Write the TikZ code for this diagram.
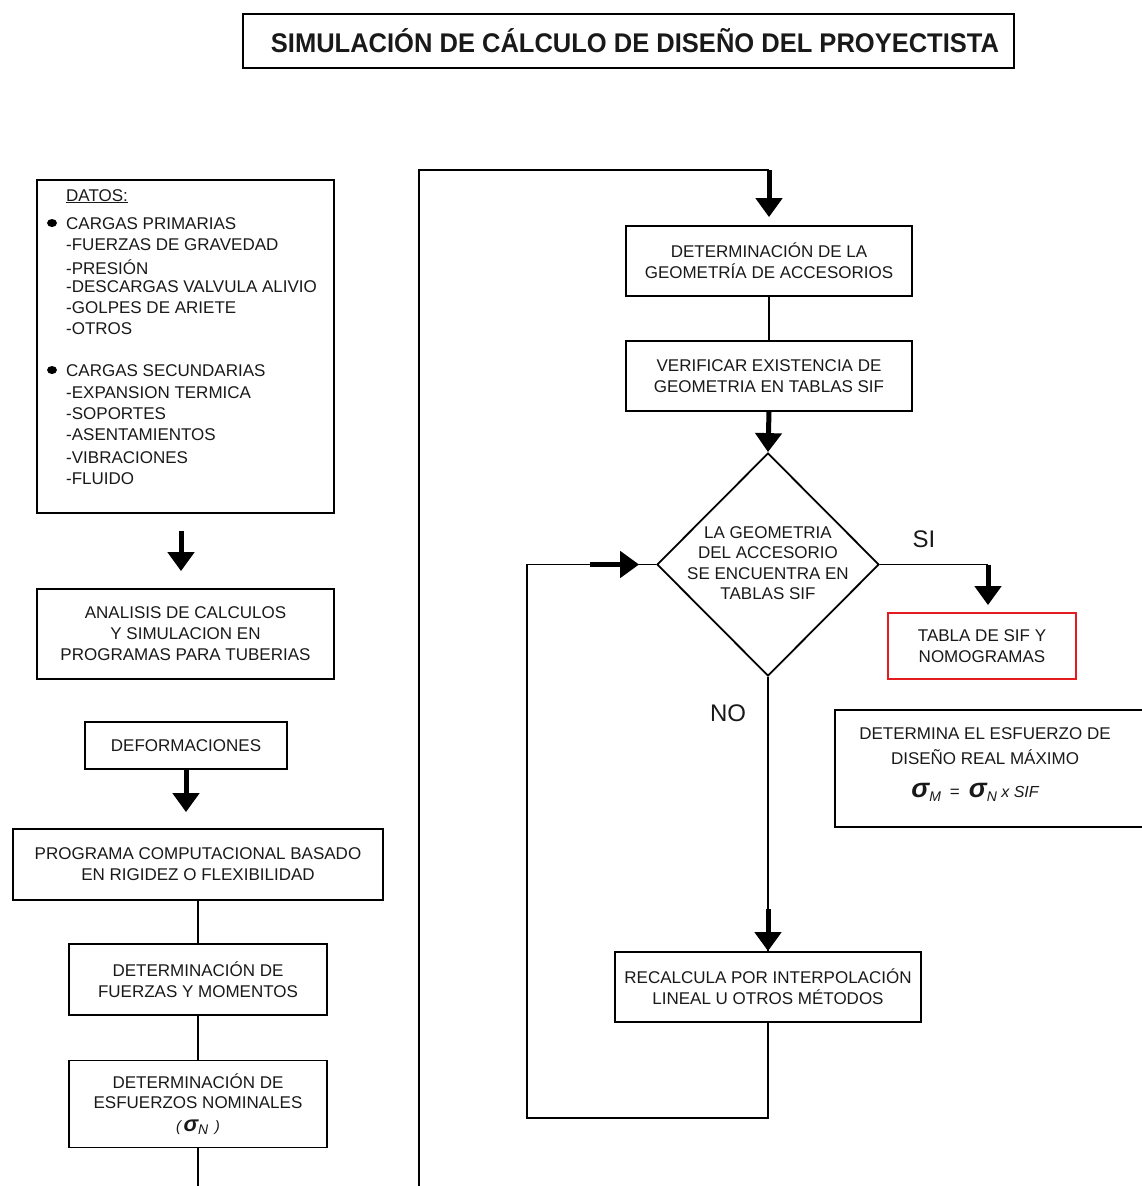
\documentclass[tikz,border=0pt]{standalone}
\usepackage{fontspec}
\setmainfont{Liberation Sans}
\usetikzlibrary{shapes.geometric,arrows.meta,calc}
\definecolor{boxred}{RGB}{228,28,32}

\begin{document}
\begin{tikzpicture}[x=1pt,y=-1pt,
  every node/.style={font=\fontsize{17}{21}\selectfont, text=black!90},
  box/.style={draw, line width=1.8pt, inner sep=0pt, align=center},
  conn/.style={line width=1.8pt},
  blk/.style={line width=5pt, -{Triangle[length=19pt,width=26pt]}},
  lbl/.style={font=\fontsize{24}{24}\selectfont},
]
\useasboundingbox (0,0) rectangle (1141,1186);

% title
\node[box, minimum width=771, minimum height=54,
      font=\fontsize{27}{27}\selectfont\bfseries] (title) at (628.5,41)
  {\hspace*{13pt}\scalebox{0.945}[1]{SIMULACIÓN DE CÁLCULO DE DISEÑO DEL PROYECTISTA}};

% ---------- left column ----------
\node[box, minimum width=297, minimum height=333] (datos) at (185.5,346.5) {};
\foreach \yy/\txt [count=\i] in {
  195/{\underline{DATOS:}},
  223/CARGAS PRIMARIAS,
  244/-FUERZAS DE GRAVEDAD,
  268/-PRESIÓN,
  286/-DESCARGAS VALVULA ALIVIO,
  307/-GOLPES DE ARIETE,
  328/-OTROS,
  370/CARGAS SECUNDARIAS,
  392/-EXPANSION TERMICA,
  413/-SOPORTES,
  434/-ASENTAMIENTOS,
  457/-VIBRACIONES,
  478/-FLUIDO}
  \node[anchor=base west, inner sep=0pt] (dl\i) at (66,\yy+6) {\txt};
\fill (52,223) ellipse [x radius=5pt, y radius=4pt];
\fill (52,370) ellipse [x radius=5pt, y radius=4pt];

\node[box, minimum width=297, minimum height=90] (analisis) at (185.5,634)
  {ANALISIS DE CALCULOS\\Y SIMULACION EN\\PROGRAMAS PARA TUBERIAS};
\node[box, minimum width=202, minimum height=47] (deform) at (186,745.5)
  {DEFORMACIONES};
\node[box, minimum width=370, minimum height=71] (programa) at (198,864.5)
  {PROGRAMA COMPUTACIONAL BASADO\\EN RIGIDEZ O FLEXIBILIDAD};
\node[box, minimum width=258, minimum height=71] (fuerzas) at (198,979.5)
  {DETERMINACIÓN DE\\FUERZAS Y MOMENTOS};
\node[box, minimum width=258, minimum height=87,
      font=\fontsize{17}{20}\selectfont] (esfuerzos) at (198,1104)
  {DETERMINACIÓN DE\\ESFUERZOS NOMINALES\\[3pt]
   {\fontsize{15}{15}\selectfont\itshape (\,}{\fontsize{22}{20}\selectfont\bfseries\itshape σ}\raisebox{-3pt}{\fontsize{14}{14}\selectfont\itshape N}{\fontsize{15}{15}\selectfont\itshape\ \,)}};

\draw[blk, shorten <=17pt, shorten >=17pt] ($(datos.south)+(-4.5,0)$) -- ($(analisis.north)+(-4.5,0)$);
\draw[blk, shorten >=16pt] (deform.south) -- (deform.south |- programa.north);
\draw[conn] (programa.south) -- (fuerzas.north);
\draw[conn] (fuerzas.south) -- (esfuerzos.north);
\coordinate (leftend) at (198,1190);
\draw[conn] (esfuerzos.south) -- (leftend);

% ---------- right column ----------
\node[box, minimum width=286, minimum height=70] (geom) at (769,261)
  {DETERMINACIÓN DE LA\\GEOMETRÍA DE ACCESORIOS};
\node[box, minimum width=286, minimum height=70] (verif) at (769,376)
  {VERIFICAR EXISTENCIA DE\\GEOMETRIA EN TABLAS SIF};
\node[diamond, draw, line width=1.8pt, inner sep=0pt,
      minimum width=222, minimum height=223] (dec) at (768,564.5) {};
\node[align=center, inner sep=0pt, font=\fontsize{17}{20.5}\selectfont] (dectxt) at (768,563)
  {LA GEOMETRIA\\DEL ACCESORIO\\SE ENCUENTRA EN\\TABLAS SIF};
\node[box, draw=boxred, minimum width=188, minimum height=66] (tabla) at (982,646)
  {TABLA DE SIF Y\\NOMOGRAMAS};
\node[box, minimum width=315, minimum height=117] (determina) at (992.5,768.5) {};
\node[align=center, inner sep=0pt, font=\fontsize{17}{25}\selectfont] (dettxt) at (985,765)
  {DETERMINA EL ESFUERZO DE\\DISEÑO REAL MÁXIMO\\[8pt]
   \hspace*{-20pt}%
   {\fontsize{27}{27}\selectfont\bfseries\itshape σ}\raisebox{-4pt}{\fontsize{14}{14}\selectfont\itshape M}%
   \hspace{9pt}=\hspace{9pt}%
   {\fontsize{27}{27}\selectfont\bfseries\itshape σ}\raisebox{-4pt}{\fontsize{14}{14}\selectfont\itshape N}%
   {\fontsize{16}{16}\selectfont\itshape\ x SIF}};
\node[box, minimum width=306, minimum height=70] (recalc) at (768,987)
  {RECALCULA POR INTERPOLACIÓN\\LINEAL U OTROS MÉTODOS};

\node[lbl] (si) at (924,539) {SI};
\node[lbl] (no) at (728,713) {NO};

% long return line into the accessory geometry step
\coordinate (loopstart) at (419,1190);
\coordinate (looptop) at ($(geom.north)+(0,-55)$);
\draw[conn] (loopstart) |- (looptop);
\draw[blk, shorten >=8pt] (looptop) -- (geom.north);

\draw[conn] (geom.south) -- (verif.north);
\draw[blk] (verif.south) -- (dec.north);

% SI branch
\coordinate (sitop) at ($(tabla.north)+(6,0)$);
\coordinate (sicorner) at (dec.east -| sitop);
\draw[conn] (dec.east) -- (sicorner);
\draw[blk, shorten >=7pt] (sicorner) -- (sitop);
\draw[conn] ($(tabla.south)+(4,0)$) -- ($(tabla.south)+(4,0)$ |- determina.north);

% NO branch
\draw[conn] (dec.south) -- (recalc.north);
\draw[blk] ($(recalc.north)+(0,-42)$) -- (recalc.north);

% loop back to the decision
\coordinate (loopbl) at (527,1118);
\draw[conn] (recalc.south) |- (loopbl) |- (dec.west);
\draw[blk] ($(dec.west)+(-66,0)$) -- ($(dec.west)+(-17,0)$);
\end{tikzpicture}
\end{document}
